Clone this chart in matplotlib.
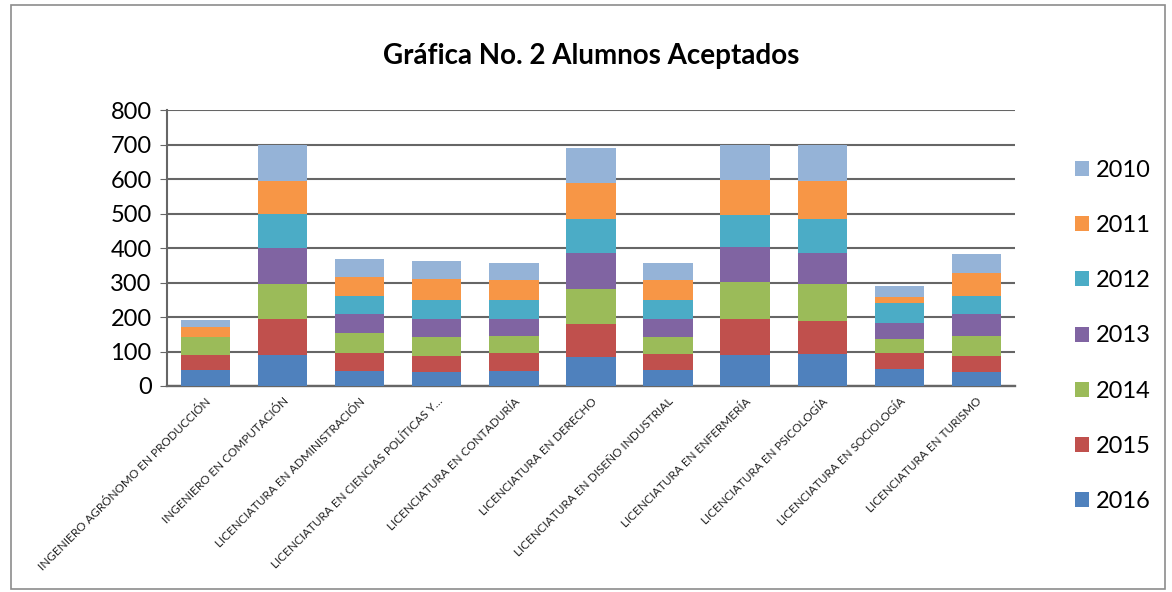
import matplotlib
matplotlib.use("Agg")
import matplotlib.pyplot as plt
from matplotlib.patches import Rectangle
import numpy as np

categories = [
    "INGENIERO AGRÓNOMO EN PRODUCCIÓN",
    "INGENIERO EN COMPUTACIÓN",
    "LICENCIATURA EN ADMINISTRACIÓN",
    "LICENCIATURA EN CIENCIAS POLÍTICAS Y…",
    "LICENCIATURA EN CONTADURÍA",
    "LICENCIATURA EN DERECHO",
    "LICENCIATURA EN DISEÑO INDUSTRIAL",
    "LICENCIATURA EN ENFERMERÍA",
    "LICENCIATURA EN PSICOLOGÍA",
    "LICENCIATURA EN SOCIOLOGÍA",
    "LICENCIATURA EN TURISMO",
]

years = ["2016", "2015", "2014", "2013", "2012", "2011", "2010"]

v2016 = [46, 89, 43, 41, 43, 84, 45, 89, 92, 48, 41]
v2015 = [43, 104, 54, 46, 54, 95, 47, 106, 95, 48, 46]
v2014 = [52, 104, 58, 55, 49, 103, 50, 106, 110, 39, 57]
v2013 = [0, 103, 55, 51, 47, 103, 51, 102, 88, 48, 66]
v2012 = [0, 98, 50, 55, 55, 100, 55, 92, 100, 58, 50]
v2011 = [30, 95, 56, 63, 58, 103, 58, 101, 108, 17, 69]
v2010 = [20, 107, 52, 52, 50, 102, 51, 104, 107, 31, 55]

series = [v2016, v2015, v2014, v2013, v2012, v2011, v2010]
colors = ["#4F81BD", "#C0504D", "#9BBB59", "#8064A2", "#4BACC6", "#F79646", "#95B3D7"]

plt.rcParams['font.family'] = ['Lato', 'DejaVu Sans']

fig = plt.figure(figsize=(11.72, 5.92), dpi=100)
ax = fig.add_axes([0.1425, 0.348, 0.7235, 0.466])

x = np.arange(len(categories))
bottom = np.zeros(len(categories))
handles = []
for yr, vals, col in zip(years, series, colors):
    b = ax.bar(x, vals, width=0.64, bottom=bottom, color=col, label=yr, zorder=3)
    handles.append(b)
    bottom += np.array(vals)

ax.set_xlim(-0.5, len(categories) - 0.5)
ax.set_ylim(0, 800)
ax.set_yticks(range(0, 801, 100))
ax.yaxis.grid(True, color="#666666", linewidth=1.5, zorder=0)
ax.set_axisbelow(True)
for s in ["top", "right"]:
    ax.spines[s].set_visible(False)
ax.spines["left"].set_color("#666666")
ax.spines["left"].set_linewidth(1.5)
ax.spines["bottom"].set_color("#666666")
ax.spines["bottom"].set_linewidth(1.7)
ax.tick_params(axis="y", labelsize=17, length=5, color="#666666", pad=6)
ax.tick_params(axis="x", length=0, pad=7)
ax.set_xticks(x)
ax.set_xticklabels(categories, rotation=45, ha="right", rotation_mode="anchor",
                   fontsize=8.5, color="#222222")

fig.text(0.504, 0.905, "Gráfica No. 2 Alumnos Aceptados", ha="center", va="center",
         fontsize=20, fontweight="bold")

leg = fig.legend(handles[::-1], years[::-1], loc="upper left",
                 bbox_to_anchor=(0.899, 0.766), frameon=False, fontsize=17,
                 labelspacing=1.45, handlelength=0.6, handleheight=0.6,
                 handletextpad=0.3)

fig.add_artist(Rectangle((0.009, 0.005), 0.985, 0.987, transform=fig.transFigure,
                         fill=False, edgecolor="#8c8c8c", linewidth=1.2))

fig.savefig("out.png", dpi=100)
